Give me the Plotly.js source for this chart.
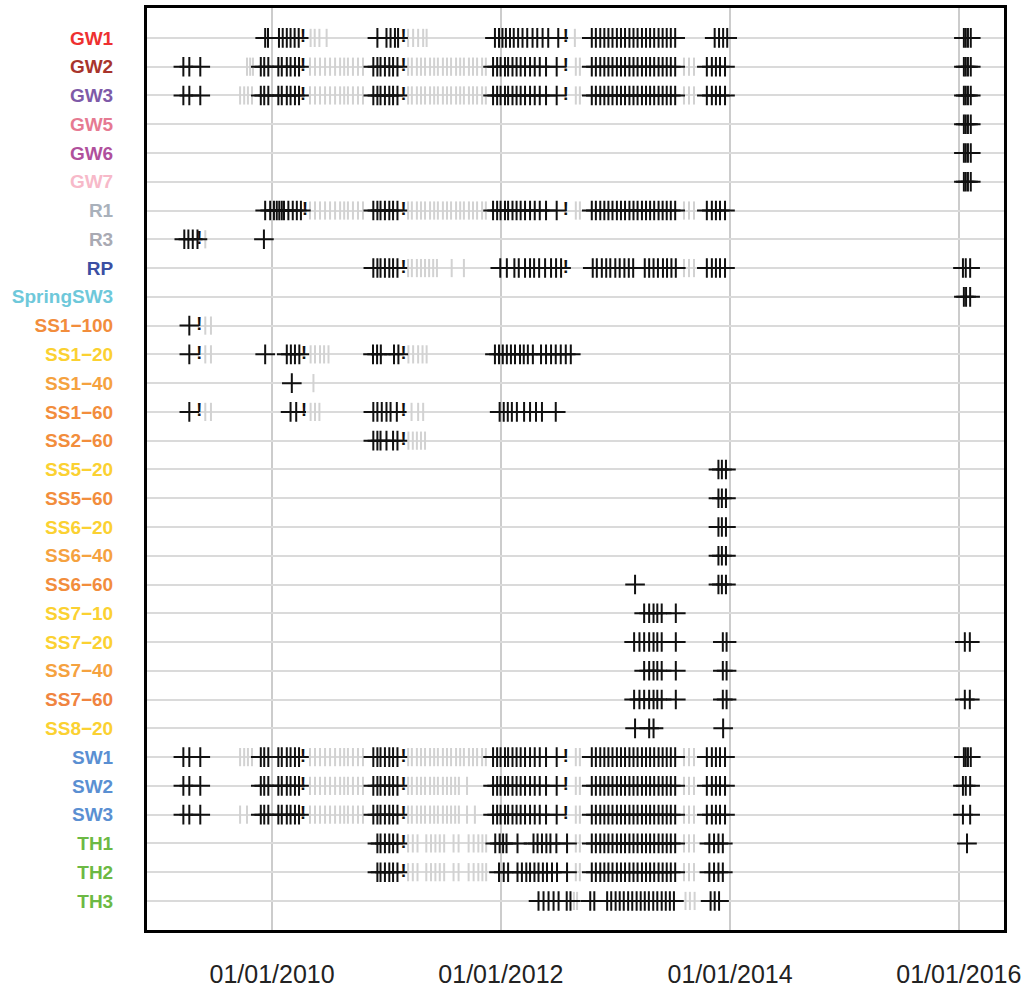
<!DOCTYPE html>
<html><head><meta charset="utf-8">
<script src="https://cdn.plot.ly/plotly-3.0.1.min.js"></script>
<style>html,body{margin:0;padding:0;background:#fff}#chart{width:1030px;height:994px}</style>
</head><body><div id="chart"></div>
<script>
// ---- categories and label colours ----
const sites = ['GW1','GW2','GW3','GW5','GW6','GW7','R1','R3','RP','SpringSW3',
  'SS1\u2212100','SS1\u221220','SS1\u221240','SS1\u221260','SS2\u221260','SS5\u221220','SS5\u221260',
  'SS6\u221220','SS6\u221240','SS6\u221260','SS7\u221210','SS7\u221220','SS7\u221240','SS7\u221260',
  'SS8\u221220','SW1','SW2','SW3','TH1','TH2','TH3'];
const siteColors = ['#ee3030','#a8342c','#7e5aa8','#e67a92','#b0509c','#f7b9c9','#a9b1bb','#a9aab3','#3b4fa3','#6ec8da',
  '#f28d3c','#fbd131','#f5a23f','#f28d3c','#f28d3c','#fbd131','#f28d3c',
  '#fbd131','#f5a23f','#f28d3c','#fbd131','#fbd131','#f5a23f','#f08440',
  '#fbd131','#5a8fd2','#5a8fd2','#5a8fd2','#6cb944','#6cb944','#6cb944'];
const tickDates = ['2010-01-01','2012-01-01','2014-01-01','2016-01-01'];
const tickLabels = ['01/01/2010','01/01/2012','01/01/2014','01/01/2016'];

// ---- shared sampling campaigns (black +) ----
const camp2009 = ['2009-03-24','2009-04-12','2009-05-17'];
const campA = ['2009-11-26','2009-12-07','2009-12-20','2010-01-21','2010-02-01','2010-02-17','2010-03-01','2010-03-15','2010-03-28'];
const campB = ['2010-11-20','2010-12-03','2010-12-13','2010-12-27','2011-01-10','2011-01-22','2011-02-05'];
const campC = ['2011-12-07','2011-12-20','2011-12-31','2012-01-14','2012-01-24','2012-02-07','2012-02-20','2012-03-04',
  '2012-03-18','2012-04-03','2012-04-18','2012-05-04','2012-05-24','2012-06-27'];
const campD = ['2012-10-17','2012-10-30','2012-11-13','2012-11-26','2012-12-09','2012-12-22','2013-01-05','2013-01-18',
  '2013-01-31','2013-02-14','2013-02-27','2013-03-12','2013-03-26','2013-04-08','2013-04-21','2013-05-04',
  '2013-05-18','2013-05-31','2013-06-13','2013-06-26','2013-07-10'];
const campE = ['2013-10-19','2013-11-04','2013-11-17','2013-11-30','2013-12-16'];
const campF = ['2016-01-17','2016-01-23','2016-01-30','2016-02-08'];
// ---- shared end-of-run marks (!) ----
const markA = ['2010-04-10'];
const markB = ['2011-02-24'];
const markC = ['2012-07-26'];
// ---- shared grey ticks ----
const grayA = ['2010-05-02','2010-05-18','2010-06-03','2010-06-19','2010-07-05','2010-07-21','2010-08-06','2010-08-19',
  '2010-08-31','2010-09-16','2010-10-02','2010-10-18'];
const grayB = ['2011-03-11','2011-03-23','2011-04-08','2011-04-21','2011-05-04','2011-05-20','2011-06-02','2011-06-14',
  '2011-06-30','2011-07-13','2011-07-26','2011-08-11','2011-08-24','2011-09-05','2011-09-21','2011-10-04',
  '2011-10-17','2011-11-02','2011-11-14'];
const grayC = ['2012-08-27','2012-09-09'];
const grayD = ['2013-08-07','2013-08-23','2013-09-08'];

// ---- site specific values ----
const gw1Black = ['2009-12-10','2009-12-19','2010-01-23','2010-02-04','2010-02-17','2010-03-01','2010-03-14','2010-03-27',
  '2010-12-03','2011-01-01','2011-01-14','2011-01-28','2011-02-07',
  '2011-12-13','2011-12-26','2012-01-06','2012-01-17','2012-01-30','2012-02-11','2012-02-25','2012-03-10','2012-03-25',
  '2012-04-11','2012-04-26','2012-05-13','2012-05-31','2012-07-02',
  '2013-11-13','2013-11-27','2013-12-10','2013-12-23'];
const gw1Gray = ['2010-05-04','2010-05-17','2010-06-01','2010-06-24','2011-03-11','2011-03-27','2011-04-12','2011-04-28','2011-05-09','2012-08-24'];
const gw2Pre = ['2009-10-13','2009-10-23','2009-11-01'];
const gw3Pre = ['2009-09-21','2009-10-04','2009-10-16','2009-10-29'];
const r1A = ['2009-12-10','2009-12-26','2010-01-07','2010-01-16','2010-01-24','2010-02-01','2010-02-08','2010-02-22','2010-03-08','2010-03-21','2010-04-03'];
const r1Mark = ['2010-04-16'];
const r3Black = ['2009-03-27','2009-04-09','2009-04-23','2009-05-08','2009-12-06'];
const r3Mark = ['2009-05-14'];
const r3Gray = ['2009-06-02'];
const rpC = ['2011-12-30','2012-01-20','2012-02-13','2012-02-27','2012-03-18','2012-04-03','2012-04-16','2012-05-02','2012-05-21','2012-06-09','2012-06-25','2012-07-11'];
const rpD = ['2012-10-20','2012-11-02','2012-11-18','2012-12-02','2012-12-15','2012-12-31','2013-01-14','2013-01-29','2013-02-12','2013-02-26',
  '2013-04-04','2013-04-18','2013-05-02','2013-05-16','2013-06-01','2013-06-14','2013-06-28','2013-07-12'];
const rpGray = ['2011-03-11','2011-03-23','2011-04-08','2011-04-21','2011-05-04','2011-05-17','2011-05-30','2011-06-11','2011-07-28','2011-09-05'];
const rpF = ['2016-01-14','2016-01-23','2016-02-06'];
const springF = ['2016-01-17','2016-01-24','2016-02-06'];
const ss1Early = ['2009-04-12'];
const ss1EarlyMark = ['2009-05-14'];
const ss1EarlyGray = ['2009-06-02','2009-06-20'];
const ss120Black = ['2009-12-10','2010-02-17','2010-03-02','2010-03-15','2010-03-29',
  '2010-11-19','2010-12-02','2010-12-14','2011-01-25','2011-02-08',
  '2011-12-13','2011-12-26','2012-01-07','2012-01-20','2012-02-02','2012-02-15','2012-03-02','2012-03-14','2012-03-27',
  '2012-04-12','2012-05-08','2012-05-24','2012-06-09','2012-06-24','2012-07-10','2012-07-26','2012-08-11'];
const ss120Mark = ['2010-04-13','2011-02-24'];
const ss120Gray = ['2010-05-04','2010-05-18','2010-06-03','2010-06-16','2010-06-30','2011-03-12','2011-03-27','2011-04-12','2011-04-26','2011-05-09'];
const ss140Black = ['2010-03-05'];
const ss140Gray = ['2010-05-13'];
const ss160Black = ['2010-03-01','2010-03-19','2010-11-20','2010-12-03','2010-12-17','2011-01-01','2011-01-14','2011-02-03',
  '2011-12-28','2012-01-10','2012-01-23','2012-02-05','2012-02-21','2012-03-15','2012-04-03','2012-04-22','2012-05-11','2012-06-24'];
const ss160Mark = ['2010-04-13','2011-02-24'];
const ss160Gray = ['2010-05-04','2010-05-18','2010-06-01','2011-03-22','2011-04-12','2011-04-28'];
const ss260Black = ['2010-11-20','2010-12-03','2010-12-13','2011-01-01','2011-01-22','2011-02-05'];
const ss260Gray = ['2011-03-12','2011-03-26','2011-04-08','2011-04-21','2011-05-04'];
const ss5Black = ['2013-11-25','2013-12-06','2013-12-19'];
const ss660Extra = ['2013-03-04'];
const ss7Spring = ['2013-04-02','2013-04-18','2013-05-02','2013-05-14','2013-05-28','2013-07-12'];
const ss7Early = ['2013-03-01','2013-03-18'];
const ss7Winter = ['2013-12-09','2013-12-21'];
const ss7F = ['2016-01-20','2016-02-05'];
const ss820Black = ['2013-03-04','2013-04-18','2013-05-02','2013-12-10'];
const sw1Pre = ['2009-09-21','2009-10-04','2009-10-16','2009-10-29'];
const sw2GrayB = ['2011-03-11','2011-03-23','2011-04-08','2011-04-21','2011-05-04','2011-05-20','2011-06-02','2011-06-14',
  '2011-06-30','2011-07-13','2011-07-26','2011-08-08','2011-08-20','2011-09-15'];
const sw3Pre = ['2009-09-21','2009-10-13'];
const sw3GrayB = ['2011-03-11','2011-03-23','2011-04-08','2011-04-21','2011-05-04','2011-05-20','2011-06-02','2011-06-14',
  '2011-06-30','2011-07-13','2011-07-26','2011-08-08','2011-08-20','2011-09-15','2011-10-10'];
const sw2F = ['2016-01-14','2016-01-23','2016-02-06'];
const sw3F = ['2016-01-14','2016-02-06'];
const th1Black = ['2010-12-03','2010-12-13','2010-12-27','2011-01-10','2011-01-22','2011-02-05',
  '2011-12-14','2011-12-28','2012-01-08','2012-01-19','2012-02-23','2012-04-14','2012-04-27','2012-05-11','2012-05-25','2012-06-07','2012-06-26','2012-07-30'];
const th1E = ['2013-10-27','2013-11-11','2013-11-25','2013-12-09'];
const th1F = ['2016-01-27'];
const th2Black = ['2010-12-03','2010-12-13','2010-12-27','2011-01-10','2011-01-22','2011-02-05',
  '2011-12-26','2012-01-10','2012-01-24','2012-02-23','2012-03-08','2012-03-22','2012-04-03','2012-04-17','2012-04-30','2012-05-14','2012-05-27','2012-06-12','2012-06-28','2012-07-30'];
const thGrayB = ['2011-03-11','2011-03-26','2011-04-10','2011-05-08','2011-05-23','2011-06-06','2011-06-20','2011-07-04','2011-08-03','2011-08-19',
  '2011-09-20','2011-10-06','2011-10-21','2011-11-03','2011-11-15'];
const th3Black = ['2012-04-30','2012-05-16','2012-06-01','2012-06-17','2012-07-03','2012-07-29','2012-08-10',
  '2012-10-12','2012-10-25','2012-12-05','2012-12-18','2013-01-01','2013-01-14','2013-01-27','2013-02-10','2013-02-23',
  '2013-03-09','2013-03-22','2013-04-04','2013-04-17','2013-05-01','2013-05-14','2013-05-28','2013-06-10','2013-06-23','2013-07-06',
  '2013-10-31','2013-11-13','2013-11-27'];
const th3Gray = ['2012-08-21','2012-08-31','2013-08-12','2013-08-26','2013-09-10'];

// ---- table: which arrays belong to which site ----
const rowBlack = {
  'GW1': [gw1Black, campD, campF], 'GW2': [camp2009, campA, campB, campC, campD, campE, campF],
  'GW3': [camp2009, campA, campB, campC, campD, campE, campF], 'GW5': [campF], 'GW6': [campF], 'GW7': [campF],
  'R1': [r1A, campB, campC, campD, campE], 'R3': [r3Black], 'RP': [campB, rpC, rpD, campE, rpF], 'SpringSW3': [springF],
  'SS1\u2212100': [ss1Early], 'SS1\u221220': [ss1Early, ss120Black], 'SS1\u221240': [ss140Black], 'SS1\u221260': [ss1Early, ss160Black],
  'SS2\u221260': [ss260Black], 'SS5\u221220': [ss5Black], 'SS5\u221260': [ss5Black], 'SS6\u221220': [ss5Black], 'SS6\u221240': [ss5Black],
  'SS6\u221260': [ss660Extra, ss5Black], 'SS7\u221210': [ss7Spring], 'SS7\u221220': [ss7Early, ss7Spring, ss7Winter, ss7F],
  'SS7\u221240': [ss7Spring, ss7Winter], 'SS7\u221260': [ss7Early, ss7Spring, ss7Winter, ss7F], 'SS8\u221220': [ss820Black],
  'SW1': [camp2009, campA, campB, campC, campD, campE, campF], 'SW2': [camp2009, campA, campB, campC, campD, campE, sw2F],
  'SW3': [camp2009, campA, campB, campC, campD, campE, sw3F], 'TH1': [th1Black, campD, th1E, th1F], 'TH2': [th2Black, campD, th1E], 'TH3': [th3Black]
};
const rowMark = {
  'GW1': [markA, markB, markC], 'GW2': [markA, markB, markC], 'GW3': [markA, markB, markC], 'R1': [r1Mark, markB, markC],
  'R3': [r3Mark], 'RP': [markB, markC], 'SS1\u2212100': [ss1EarlyMark], 'SS1\u221220': [ss1EarlyMark, ss120Mark],
  'SS1\u221260': [ss1EarlyMark, ss160Mark], 'SS2\u221260': [markB], 'SW1': [markA, markB, markC], 'SW2': [markA, markB, markC],
  'SW3': [markA, markB, markC], 'TH1': [markB], 'TH2': [markB]
};
const rowGray = {
  'GW1': [gw1Gray], 'GW2': [gw2Pre, grayA, grayB, grayC, grayD], 'GW3': [gw3Pre, grayA, grayB, grayC, grayD],
  'R1': [grayA, grayB, grayC, grayD], 'R3': [r3Gray], 'RP': [rpGray, grayD], 'SS1\u2212100': [ss1EarlyGray],
  'SS1\u221220': [ss1EarlyGray, ss120Gray], 'SS1\u221240': [ss140Gray], 'SS1\u221260': [ss1EarlyGray, ss160Gray], 'SS2\u221260': [ss260Gray],
  'SW1': [sw1Pre, grayA, grayB, grayC, grayD], 'SW2': [grayA, sw2GrayB, grayC, grayD], 'SW3': [sw3Pre, grayA, sw3GrayB, grayC, grayD],
  'TH1': [thGrayB, grayC, grayD], 'TH2': [thGrayB, grayC, grayD], 'TH3': [th3Gray]
};

function flatten(table) {
  const xs = [], ys = [];
  for (const s of sites) {
    (table[s] || []).forEach(arr => arr.forEach(d => { xs.push(d); ys.push(s); }));
  }
  return {xs, ys};
}
const g = flatten(rowGray), b = flatten(rowBlack), m = flatten(rowMark);

const traces = [
  {type:'scatter', mode:'markers', x:g.xs, y:g.ys, hoverinfo:'skip',
   marker:{symbol:'line-ns', size:13, line:{width:2, color:'#d2d2d2'}, color:'#d2d2d2'}},
  {type:'scatter', mode:'markers', x:b.xs, y:b.ys, hoverinfo:'skip',
   marker:{symbol:'cross-thin', size:14, line:{width:2, color:'#111'}, color:'#111'}},
  {type:'scatter', mode:'text', x:m.xs, y:m.ys, text:m.xs.map(()=>'!'), hoverinfo:'skip',
   textposition:'middle center', textfont:{family:'Liberation Sans, Arial, sans-serif', size:18, color:'#111', weight:'bold'}}
];

const ticktext = sites.map((s,i)=>'<span style="color:'+siteColors[i]+'"><b>'+s+'</b></span>');

const layout = {
  width:1030, height:994, showlegend:false,
  paper_bgcolor:'#fff', plot_bgcolor:'#fff',
  margin:{l:147, r:26, t:8, b:64},
  xaxis:{type:'date', range:['2008-11-28','2016-05-24'], tickvals:tickDates, ticktext:tickLabels,
    showgrid:true, gridcolor:'#cccccc', gridwidth:1.5, zeroline:false,
    showline:true, linecolor:'#000', linewidth:3, mirror:true, ticks:'', ticklabelstandoff:20,
    ticklabeloverflow:'allow',
    tickfont:{family:'Liberation Sans, Arial, sans-serif', size:25, color:'#222'}},
  yaxis:{type:'category', categoryorder:'array', categoryarray:sites, tickvals:sites, ticktext:ticktext,
    range:[31.01,-1.04], showgrid:true, gridcolor:'#dadada', gridwidth:2, zeroline:false,
    showline:true, linecolor:'#000', linewidth:3, mirror:true, ticks:'', ticklabelstandoff:27,
    tickfont:{family:'Liberation Sans, Arial, sans-serif', size:19}}
};
Plotly.newPlot('chart', traces, layout, {staticPlot:true, displayModeBar:false});
</script></body></html>
